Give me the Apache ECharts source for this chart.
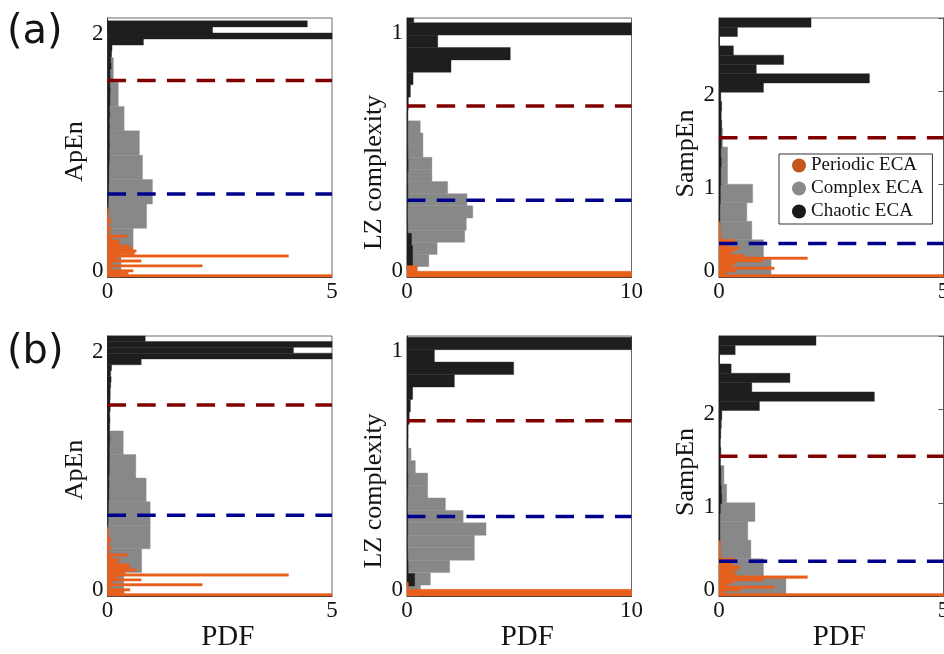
<!DOCTYPE html>
<html>
<head>
<meta charset="utf-8">
<script src="https://cdn.jsdelivr.net/npm/echarts@6/dist/echarts.min.js"></script>
<style>
  html, body { margin: 0; padding: 0; background: #fff; }
  #chart { width: 944px; height: 654px; }
</style>
</head>
<body>
<div id="chart"></div>
<script>
// histograms: bins = [first edge, bin width], values = PDF per bin (bottom -> top)
// row (a)
const a1PBins = [0, 0.02];
const a1P = [8, 0.46, 0.57, 0.08, 2.11, 0.1, 0.75, 0.22, 4.03, 0.6, 0.64, 0.55, 0.48, 0.25, 0.26, 0.1, 0.43, 0.05, 0.04, 0.09, 0.02, 0.03, 0.085, 0.04, 0.02, 0.01, 0.03, 0.01];
const a1CBins = [0, 0.197];
const a1C = [0.3, 0.57, 0.87, 1.0, 0.78, 0.71, 0.37, 0.24, 0.13, 0.03];
const a1KBins = [0.504, 0.049];
const a1K = [0.01, 0.015, 0.02, 0.02, 0.025, 0.03, 0.03, 0.03, 0.035, 0.04, 0.04, 0.045, 0.04, 0.04, 0.045, 0.04, 0.05, 0.045, 0.055, 0.055, 0.06, 0.055, 0.06, 0.055, 0.08, 0.07, 0.09, 0.1, 0.8, 7, 2.34, 4.45];

const a2PBins = [0, 0.023];
const a2P = [30, 0.45];
const a2CBins = [-0.007, 0.049];
const a2C = [0.45, 0.97, 1.34, 2.57, 2.64, 2.93, 2.67, 1.81, 1.11, 1.11, 0.71, 0.71, 0.59, 0.03];
const a2KBins = [0.026, 0.05];
const a2K = [0.25, 0.25, 0.2, 0.03, 0.02, 0.03, 0.04, 0.03, 0.05, 0.04, 0.03, 0.03, 0.04, 0.06, 0.15, 0.27, 1.96, 4.6, 1.37, 15, 0.3];

const a3PBins = [0, 0.027];
const a3P = [6, 0.15, 0.37, 1.23, 0.3, 0.37, 0.98, 1.97, 0.56, 0.26, 0.35, 0.45, 0.2, 0.3, 0.35, 0.05, 0.03, 0.04, 0.03, 0.02, 0.03, 0.02];
const a3CBins = [0, 0.2];
const a3C = [1.16, 0.99, 0.73, 0.62, 0.75, 0.19, 0.19, 0.08, 0.03, 0.03];
const a3KBins = [0.59, 0.1];
const a3K = [0.02, 0.02, 0.03, 0.03, 0.04, 0.04, 0.05, 0.04, 0.05, 0.05, 0.06, 0.05, 0.06, 0.04, 0.99, 3.35, 0.83, 1.44, 0.32, 0, 0.41, 2.05];

// row (b)
const b1PBins = [0, 0.02];
const b1P = [8, 0.37, 0.5, 0.07, 2.11, 0.1, 0.75, 0.22, 4.03, 0.4, 0.64, 0.5, 0.48, 0.22, 0.26, 0.1, 0.44, 0.05, 0.04, 0.09, 0.02, 0.03, 0.08, 0.04, 0.02, 0.01, 0.03, 0.01];
const b1CBins = [0, 0.19];
const b1C = [0.36, 0.76, 0.95, 0.95, 0.86, 0.63, 0.35];
const b1KBins = [0.547, 0.047];
const b1K = [0.01, 0.015, 0.02, 0.02, 0.025, 0.03, 0.03, 0.035, 0.03, 0.04, 0.04, 0.04, 0.045, 0.04, 0.045, 0.05, 0.045, 0.05, 0.055, 0.05, 0.06, 0.055, 0.06, 0.06, 0.07, 0.08, 0.07, 0.09, 0.75, 7, 4.14, 7, 0.84];

const b2PBins = [0, 0.027];
const b2P = [30, 0.06];
const b2CBins = [-0.006, 0.05];
const b2C = [0.6, 1.04, 1.9, 3.0, 3.0, 3.52, 2.5, 1.71, 0.92, 0.92, 0.37, 0.18, 0.05];
const b2KBins = [0.04, 0.05];
const b2K = [0.34, 0.05, 0.03, 0.02, 0.03, 0.03, 0.02, 0.03, 0.04, 0.03, 0.03, 0.04, 0.05, 0.1, 0.15, 0.25, 2.11, 4.75, 1.22, 15];

const b3PBins = [0, 0.027];
const b3P = [6, 0.11, 0.48, 1.23, 0.19, 0.33, 0.99, 1.97, 0.37, 0.33, 0.41, 0.46, 0.3, 0.3, 0.35, 0.05, 0.03, 0.03, 0.04, 0.02, 0.03, 0.03];
const b3CBins = [0, 0.2];
const b3C = [1.49, 0.99, 0.71, 0.64, 0.8, 0.17, 0.11, 0.03, 0.02, 0.06];
const b3KBins = [0.59, 0.1];
const b3K = [0.02, 0.02, 0.02, 0.03, 0.06, 0.05, 0.04, 0.04, 0.03, 0.04, 0.03, 0.04, 0.04, 0.06, 0.9, 3.46, 0.73, 1.58, 0.27, 0, 0.36, 2.16];

// thresholds (dashed lines), panel order a1 a2 a3 b1 b2 b3
const redLine = [1.59, 0.69, 1.50, 1.54, 0.704, 1.50];
const blueLine = [0.672, 0.31, 0.362, 0.651, 0.32, 0.373];

// axes
const yNames = ['ApEn', 'LZ complexity', 'SampEn'];
const yMax = [2.095, 1.045, 2.79, 2.095, 1.045, 2.79];
const yStep = [2, 1, 1, 2, 1, 1];
const xMax = [5, 10, 5, 5, 10, 5];
const seriesNames = ['Periodic ECA', 'Complex ECA', 'Chaotic ECA'];

const panels = [
  [a1P, a1PBins, a1C, a1CBins, a1K, a1KBins],
  [a2P, a2PBins, a2C, a2CBins, a2K, a2KBins],
  [a3P, a3PBins, a3C, a3CBins, a3K, a3KBins],
  [b1P, b1PBins, b1C, b1CBins, b1K, b1KBins],
  [b2P, b2PBins, b2C, b2CBins, b2K, b2KBins],
  [b3P, b3PBins, b3C, b3CBins, b3K, b3KBins]
];

const colLeft = [107.5, 407, 719];
const rowTop = [18, 336];
const rowHeight = [259, 260];
const namePad = [[0, 8, 0, 0], [0, 50, 0, 0], [0, 12, 0, 0]]; // nudges the rotated y titles down
const serif = 'Liberation Serif';
const ink = '#141414';

function hist(values, bins) {
  return values.map((v, k) => [bins[0] + k * bins[1], bins[0] + (k + 1) * bins[1], v]);
}

function renderBar(params, api) {
  const a = api.coord([0, api.value(0)]);
  const b = api.coord([api.value(2), api.value(1)]);
  const cs = params.coordSys;
  const shape = echarts.graphic.clipRectByRect(
    { x: a[0], y: b[1], width: b[0] - a[0], height: a[1] - b[1] },
    { x: cs.x, y: cs.y, width: cs.width, height: cs.height }
  );
  if (!shape) return null;
  const c = api.visual('color');
  return { type: 'rect', shape: shape, style: { fill: c, stroke: c, lineWidth: 0.4 } };
}

const grids = [], xAxes = [], yAxes = [], series = [];

panels.forEach((p, i) => {
  const col = i % 3, row = Math.floor(i / 3);
  grids.push({
    left: colLeft[col], top: rowTop[row], width: 224.5, height: rowHeight[row],
    show: true, borderColor: '#6a6a6a', borderWidth: 1, backgroundColor: '#fff',
    outerBoundsMode: 'none'
  });
  xAxes.push({
    type: 'value', gridIndex: i, min: 0, max: xMax[i], interval: xMax[i],
    name: row === 1 ? 'PDF' : '', nameLocation: 'middle', nameGap: 20,
    nameTextStyle: { fontFamily: serif, fontSize: 29, color: ink, padding: [0, 0, 0, 16] },
    axisLine: { show: true, lineStyle: { color: '#333', width: 1 } },
    axisTick: { show: false },
    splitLine: { show: false },
    axisLabel: { margin: 3, fontFamily: serif, fontSize: 23, color: ink }
  });
  yAxes.push({
    type: 'value', gridIndex: i, min: 0, max: yMax[i], interval: yStep[i],
    name: yNames[col], nameLocation: 'middle', nameGap: 18,
    nameTextStyle: { fontFamily: serif, fontSize: 26, color: ink, padding: namePad[col] },
    axisLine: { show: true, lineStyle: { color: '#333', width: 1 } },
    axisTick: { show: true, inside: true, length: 5, lineStyle: { color: '#333' } },
    splitLine: { show: false },
    axisLabel: {
      margin: 4, showMaxLabel: false,
      formatter: v => (v === 0 ? '{z|0}' : (Number.isInteger(v) ? '{n|' + v + '}' : '')),
      rich: {
        z: { fontFamily: serif, fontSize: 23, color: ink, padding: [0, 0, 13, 0] },
        n: { fontFamily: serif, fontSize: 23, color: ink, padding: [8, 0, 0, 0] }
      }
    }
  });
  const parts = [[p[2], p[3], 1, '#888888'], [p[4], p[5], 2, '#1e1e1e'], [p[0], p[1], 0, '#e8601c']];
  parts.forEach(([vals, bins, n, color]) => {
    series.push({
      type: 'custom', name: seriesNames[n], xAxisIndex: i, yAxisIndex: i,
      renderItem: renderBar, encode: { x: 2, y: [0, 1] },
      itemStyle: { color: color }, silent: true,
      data: hist(vals, bins)
    });
  });
  [[redLine[i], '#800000'], [blueLine[i], '#00008b']].forEach(([v, color]) => {
    series.push({
      type: 'line', xAxisIndex: i, yAxisIndex: i, symbol: 'none', silent: true, z: 5,
      lineStyle: { color: color, width: 3.5, type: [18.5, 11.2] },
      data: [[0, v], [xMax[i], v]]
    });
  });
});

// mirrored right axes with inward ticks for the SampEn panels
[2, 5].forEach(i => {
  yAxes.push({
    type: 'value', gridIndex: i, position: 'right', min: 0, max: yMax[i], interval: yStep[i],
    axisLine: { show: true, lineStyle: { color: '#555', width: 1 } },
    axisTick: { show: true, inside: true, length: 5, lineStyle: { color: '#555' } },
    axisLabel: { show: false }, splitLine: { show: false }
  });
});

const chart = echarts.init(document.getElementById('chart'), null, { renderer: 'canvas' });
chart.setOption({
  animation: false,
  backgroundColor: '#fff',
  title: [
    { text: '(a)', left: 7, top: 13, padding: 0, textStyle: { fontFamily: 'DejaVu Sans', fontSize: 40, fontWeight: 'normal', color: ink } },
    { text: '(b)', left: 7, top: 333, padding: 0, textStyle: { fontFamily: 'DejaVu Sans', fontSize: 40, fontWeight: 'normal', color: ink } }
  ],
  legend: {
    orient: 'vertical', left: 779, top: 154, z: 10,
    padding: [2, 9, 3, 13], itemGap: 4,
    backgroundColor: '#fff', borderColor: '#333', borderWidth: 1,
    icon: 'circle', itemWidth: 14, itemHeight: 14, selectedMode: false,
    textStyle: { fontFamily: serif, fontSize: 19, color: ink },
    data: [
      { name: 'Periodic ECA', itemStyle: { color: '#c4561a' } },
      { name: 'Complex ECA', itemStyle: { color: '#8a8a8a' } },
      { name: 'Chaotic ECA', itemStyle: { color: '#1a1a1a' } }
    ]
  },
  grid: grids,
  xAxis: xAxes,
  yAxis: yAxes,
  series: series
});
</script>
</body>
</html>
